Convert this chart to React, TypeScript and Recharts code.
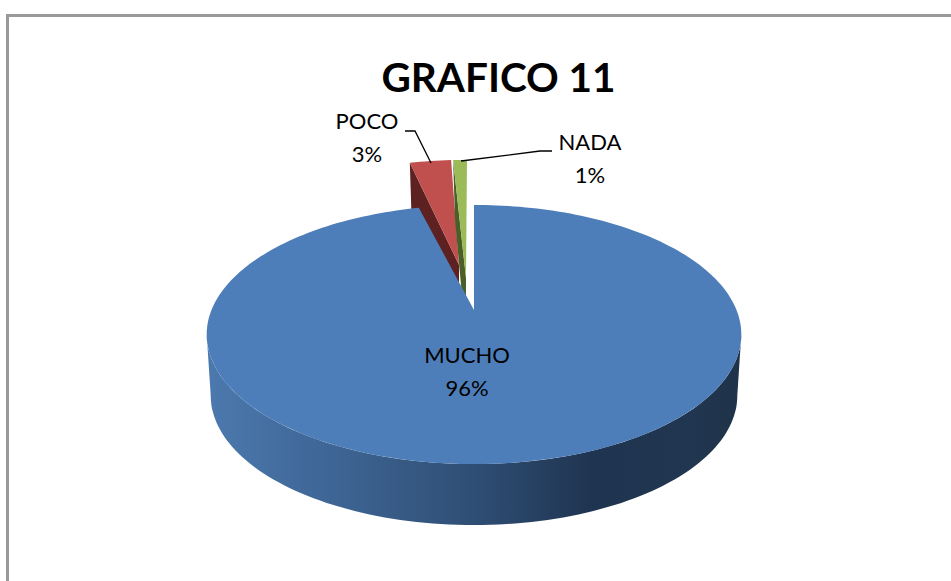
import React from "react";
import { PieChart, Pie } from "recharts";

const categories = ["POCO", "NADA", "MUCHO"];
const percentages = [3, 1, 96];
const sliceColors = ["#c0504d", "#9bbb59", "#4e7eb9"];
const wallColors = ["#5c2120", "#4a5f28", "#2f4f75"];

const rows = categories.map((name, i) => ({
  name,
  value: percentages[i],
  fill: sliceColors[i],
  wall: wallColors[i],
}));

const FONT = "Lato, 'Open Sans', sans-serif";
const CX = 474;
const CY = 310;
const RADIUS = 262.5;
const TILT = 0.476;
const K = 0.189;
const DEPTH = 61;
const RAD = Math.PI / 180;

const project = (deg: number, r = 1) => {
  const X = Math.cos(deg * RAD) * r;
  const Y = Math.sin(deg * RAD) * r;
  const s = 1 / (1 + K * Y);
  return [CX + RADIUS * X * s, CY - RADIUS * TILT * Y * s];
};

const arc = (from: number, to: number) => {
  const pts: number[][] = [];
  const n = Math.max(4, Math.ceil(Math.abs(to - from) / 1.5));
  for (let i = 0; i <= n; i++) pts.push(project(from + ((to - from) * i) / n));
  return pts;
};

const toPath = (pts: number[][]) =>
  "M" + pts.map((p) => `${p[0].toFixed(1)},${p[1].toFixed(1)}`).join("L") + "Z";

const SliceShape = (props: any) => {
  const { startAngle, endAngle, fill, name } = props;
  const wall = props.wall ?? props.payload?.wall;
  const label = name ?? props.payload?.name;
  const hi = Math.max(startAngle, endAngle);
  const lo = Math.min(startAngle, endAngle);

  if (label === "MUCHO") {
    const right = -Math.asin(K) / RAD;
    const left = -180 - right;
    const top = arc(right, left);
    const bottom = top
      .map((p) => [CX + (p[0] - CX) * 0.985, p[1] + DEPTH])
      .reverse();
    return (
      <g>
        <defs>
          <linearGradient id="wallShade" gradientUnits="userSpaceOnUse" x1="207" x2="742" y1="0" y2="0">
            <stop offset="0" stopColor="#4c79ae" />
            <stop offset="0.18" stopColor="#416a9b" />
            <stop offset="0.5" stopColor="#2f4e74" />
            <stop offset="0.72" stopColor="#1f3450" />
            <stop offset="0.9" stopColor="#213650" />
            <stop offset="1" stopColor="#1f3349" />
          </linearGradient>
        </defs>
        <path d={toPath([...top, ...bottom])} fill="url(#wallShade)" />
        <path d={toPath([[CX, CY], ...arc(lo, hi)])} fill={fill} />
      </g>
    );
  }

  const rim = label === "POCO" ? [-9, -45] : [-7, -45];
  const tip = label === "POCO" ? [-15, -45] : [-8, -32];
  const rimPts = arc(hi, lo).map((p) => [p[0] + rim[0], p[1] + rim[1]]);
  const apex = [CX + tip[0], CY + tip[1]];
  const a = rimPts[0];
  const side = [a, [a[0] + 2, a[1] + DEPTH], [apex[0], apex[1] + DEPTH], apex];
  return (
    <g>
      <path d={toPath(side)} fill={wall} />
      <path d={toPath([apex, ...rimPts])} fill={fill} />
    </g>
  );
};

const labelSpots: Record<string, { x: number; y: number; leader?: string }> = {
  POCO: { x: 367, y: 123, leader: "M405,131H415L431,163" },
  NADA: { x: 590, y: 144, leader: "M552,151H540L461,161" },
  MUCHO: { x: 467, y: 357 },
};

const SliceLabel = (props: any) => {
  const spot = labelSpots[props.name];
  if (!spot) return null;
  return (
    <g>
      {spot.leader && <path d={spot.leader} fill="none" stroke="#000" strokeWidth={1.3} />}
      <text x={spot.x} y={spot.y} textAnchor="middle" dominantBaseline="middle" fontFamily={FONT} fontSize={22} fill="#000">
        {props.name}
      </text>
      <text x={spot.x} y={spot.y + 33} textAnchor="middle" dominantBaseline="middle" fontFamily={FONT} fontSize={22} fill="#000">
        {`${props.value}%`}
      </text>
    </g>
  );
};

export default function App() {
  return (
    <div style={{ position: "fixed", left: 0, top: 0, width: 951, height: 581, background: "#fff", overflow: "hidden" }}>
      <div
        style={{
          position: "absolute",
          left: 6,
          top: 14,
          width: 960,
          height: 600,
          borderTop: "3px solid #9a9a9a",
          borderLeft: "3px solid #9a9a9a",
          boxSizing: "border-box",
        }}
      />
      <div
        style={{
          position: "absolute",
          left: 0,
          width: 997,
          top: 49,
          textAlign: "center",
          fontFamily: FONT,
          fontWeight: 700,
          fontSize: 40.5,
          lineHeight: "56px",
          color: "#000",
        }}
      >
        GRAFICO 11
      </div>
      <div style={{ position: "absolute", left: 0, top: 0 }}>
        <PieChart width={951} height={581} margin={{ top: 0, right: 0, bottom: 0, left: 0 }}>
          <Pie
            data={rows}
            dataKey="value"
            nameKey="name"
            cx={CX}
            cy={CY}
            outerRadius={RADIUS}
            startAngle={104.4}
            endAngle={-255.6}
            stroke="none"
            isAnimationActive={false}
            shape={SliceShape}
            label={SliceLabel}
            labelLine={false}
          />
        </PieChart>
      </div>
    </div>
  );
}
